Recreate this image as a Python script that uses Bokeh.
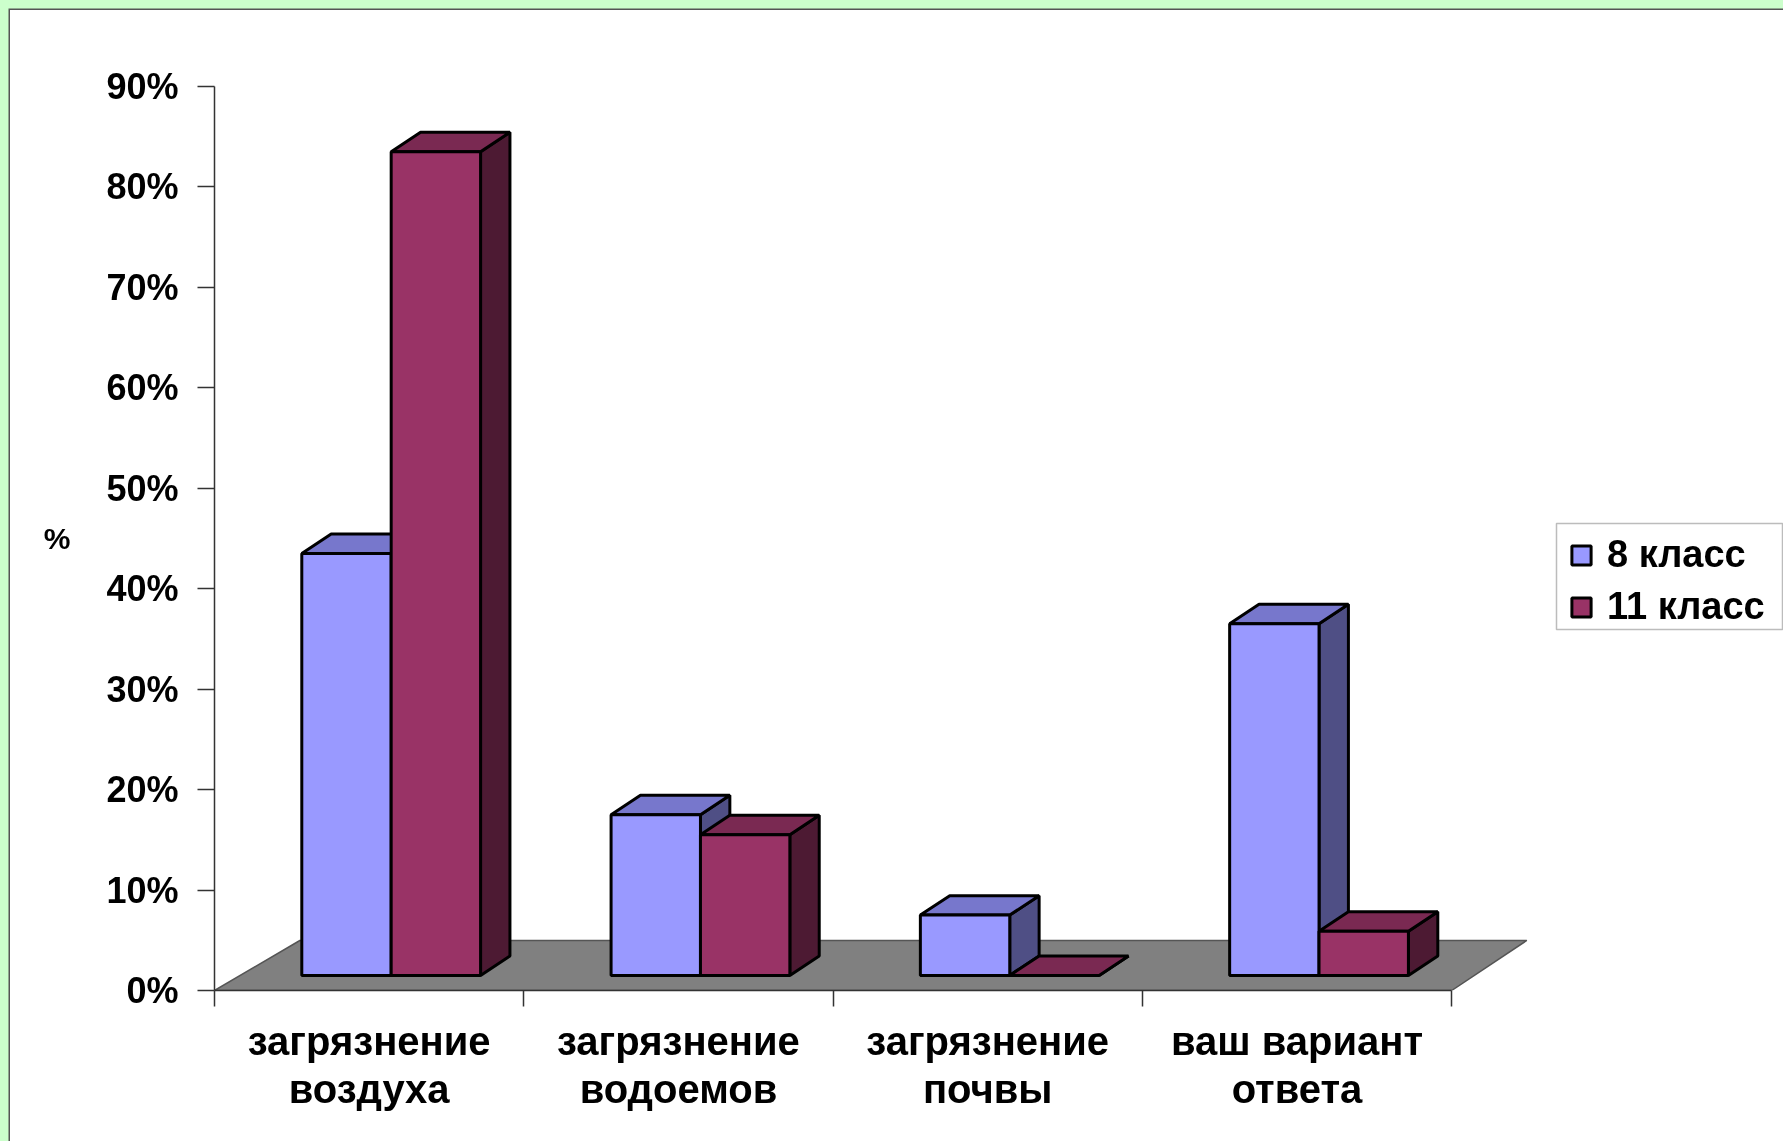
from bokeh.plotting import figure
from bokeh.models import (Range1d, FixedTicker, Legend, LegendItem, BoxAnnotation)
from bokeh.embed import file_html
from bokeh.resources import INLINE

categories = ["загрязнение\nвоздуха", "загрязнение\nводоемов", "загрязнение\nпочвы", "ваш вариант\nответа"]
series_names = ["8 класс", "11 класс"]
grade8 = [42, 16, 6, 35]
grade11 = [82, 14, 0, 4.4]
y_ticks = [0, 10, 20, 30, 40, 50, 60, 70, 80, 90]

FONT = "Liberation Sans"
BAR_W = 0.289
FLOOR_SKEW_X_LEFT = 0.276
FLOOR_SKEW_X_RIGHT = 0.243
FLOOR_SKEW_Y = 4.98
BAR_SKEW_X = 0.25
BAR_SKEW_Y = 5.1
BAR_SHIFT = -0.0025
D0, D1 = 0.295, 0.675
STYLES = [("#9999FF", "#7777CC", "#4F4F85"), ("#993366", "#7A2952", "#4D1A33")]


def pt(c, v, d):
    return c + d * BAR_SKEW_X, v + d * BAR_SKEW_Y


def faces(values, k):
    front, top, side = ([], []), ([], []), ([], [])
    for i, v in enumerate(values):
        a = i + 0.5 - BAR_W + k * BAR_W + BAR_SHIFT
        b = a + BAR_W
        for face, corners in (
            (side, [(b, 0, D0), (b, 0, D1), (b, v, D1), (b, v, D0)]),
            (top, [(a, v, D0), (b, v, D0), (b, v, D1), (a, v, D1)]),
            (front, [(a, 0, D0), (b, 0, D0), (b, v, D0), (a, v, D0)]),
        ):
            pts = [pt(*c) for c in corners]
            face[0].append([q[0] for q in pts])
            face[1].append([q[1] for q in pts])
    return front, top, side


p = figure(width=1773, height=1131, output_backend="svg", toolbar_location=None,
           x_range=Range1d(0, 5.073), y_range=Range1d(0, 90),
           x_axis_location="below", y_axis_location="left",
           min_border_left=204, min_border_right=0, min_border_top=76, min_border_bottom=151,
           border_fill_color="white", background_fill_color="white", outline_line_color=None)
p.styles = {"position": "fixed", "left": "10px", "top": "10px",
            "box-shadow": "0 0 0 1.5px #555555, 0 0 0 10px #CCFFCC"}
p.grid.visible = False

n = len(categories)
floor_x = [0, n, n + FLOOR_SKEW_X_RIGHT, FLOOR_SKEW_X_LEFT]
floor_y = [0, 0, FLOOR_SKEW_Y, FLOOR_SKEW_Y]
p.patch(floor_x, floor_y, fill_color="#808080", line_color="#555555", line_width=1.5)

items = []
for k, (vals, name) in enumerate(zip((grade8, grade11), series_names)):
    front, top, side = faces(vals, k)
    fc, tc, sc = STYLES[k]
    p.patches(side[0], side[1], fill_color=sc, line_color="black", line_width=3)
    p.patches(top[0], top[1], fill_color=tc, line_color="black", line_width=3)
    r = p.patches(front[0], front[1], fill_color=fc, line_color="black", line_width=3)
    items.append(LegendItem(label=name, renderers=[r]))

ya = p.yaxis[0]
ya.ticker = FixedTicker(ticks=y_ticks)
ya.major_label_overrides = {t: f"{t}%" for t in y_ticks}
ya.minor_tick_line_color = None
ya.major_tick_in = 0
ya.major_tick_out = 17
ya.major_label_standoff = 19
ya.major_label_text_font = FONT
ya.major_label_text_font_style = "bold"
ya.major_label_text_font_size = "36px"
ya.major_label_text_color = "black"
ya.axis_line_color = "#333333"
ya.major_tick_line_color = "#333333"
ya.axis_line_width = 1.5
ya.major_tick_line_width = 1.5
ya.axis_label = "%"
ya.axis_label_orientation = "horizontal"
ya.axis_label_standoff = 33
ya.axis_label_text_font = FONT
ya.axis_label_text_font_style = "bold"
ya.axis_label_text_font_size = "30px"
ya.axis_label_text_color = "black"

xa = p.xaxis[0]
centers = [i + 0.5 for i in range(n)]
xa.ticker = FixedTicker(ticks=centers, minor_ticks=list(range(n + 1)))
xa.major_label_overrides = {c: l for c, l in zip(centers, categories)}
xa.bounds = (0, n)
xa.major_tick_line_color = None
xa.major_tick_in = 0
xa.major_tick_out = 0
xa.minor_tick_in = 0
xa.minor_tick_out = 16
xa.minor_tick_line_color = "#333333"
xa.minor_tick_line_width = 1.5
xa.axis_line_color = "#333333"
xa.axis_line_width = 1.5
xa.major_label_standoff = 12
xa.major_label_text_font = FONT
xa.major_label_text_font_style = "bold"
xa.major_label_text_font_size = "40px"
xa.major_label_text_color = "black"
xa.major_label_text_line_height = 1.1

p.add_layout(BoxAnnotation(left=1546, right=1772, top=513, bottom=619,
                           left_units="canvas", right_units="canvas", top_units="canvas", bottom_units="canvas",
                           fill_color="white", fill_alpha=1, line_color="#222222", line_width=1.5))

legend = Legend(items=items, location=(1355, 362), orientation="vertical",
                label_text_font=FONT, label_text_font_style="bold", label_text_font_size="38px",
                label_text_color="black", glyph_width=24, glyph_height=24, spacing=9, padding=0,
                margin=0, border_line_color=None, background_fill_alpha=0, label_standoff=14)
p.add_layout(legend)

open("out.html", "w").write(file_html(p, INLINE))
